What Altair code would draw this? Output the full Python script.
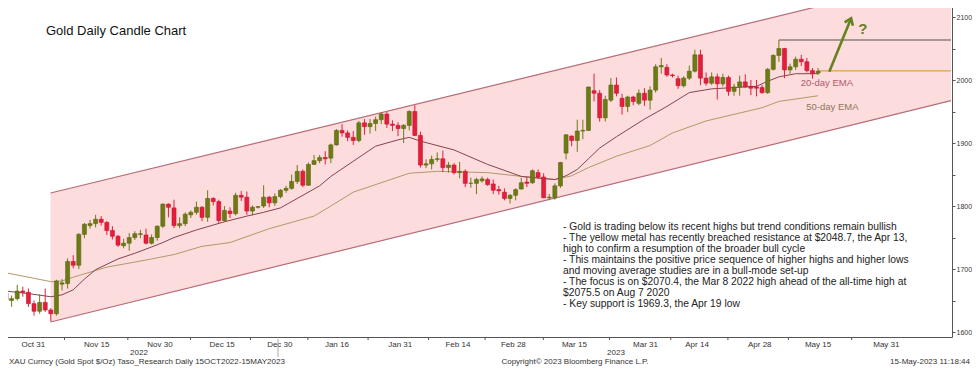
import altair as alt
import pandas as pd

# ---------------- data ----------------
# one candle per weekday, 24 Oct 2022 .. 15 May 2023 (slot index 0..145)
opens = [
    1662, 1650, 1653, 1665, 1663,  1645, 1633, 1647, 1635, 1629,
    1676, 1677, 1712, 1706, 1755,  1769, 1772, 1779, 1774, 1761,
    1752, 1737, 1741, 1750, 1755,  1754, 1741, 1750, 1768, 1803,
    1797, 1769, 1772, 1786, 1790,  1798, 1782, 1812, 1807, 1777,
    1792, 1788, 1817, 1814, 1792,  1798, 1800, 1814, 1805, 1815,
    1825, 1828, 1839, 1855, 1833,  1866, 1872, 1877, 1876, 1897,
    1920, 1916, 1909, 1904, 1932,  1926, 1931, 1937, 1946, 1930,
    1928, 1923, 1928, 1950, 1912,  1865, 1867, 1874, 1875, 1861,
    1865, 1853, 1855, 1836, 1836,  1840, 1842, 1835, 1826, 1822,
    1812, 1817, 1827, 1838, 1837,  1853, 1846, 1813, 1813, 1832,
    1884, 1911, 1904, 1919, 1920,  1983, 1979, 1940, 1968, 1992,
    1971, 1958, 1973, 1963, 1979,  1968, 1984, 2021, 2020, 2008,
    2002, 1991, 2003, 2014, 2040,  2003, 1995, 2005, 1994, 2004,
    1982, 1989, 1997, 1990, 1989,  1988, 1980, 2017, 2039, 2050,
    2016, 2021, 2033, 2029, 2015,  2011,
]
highs = [
    1672, 1658, 1675, 1672, 1669,  1650, 1660, 1669, 1638, 1683,
    1684, 1717, 1722, 1757, 1773,  1778, 1786, 1784, 1776, 1768,
    1754, 1748, 1757, 1760, 1762,  1764, 1755, 1769, 1804, 1804,
    1810, 1782, 1790, 1793, 1807,  1800, 1825, 1814, 1810, 1800,
    1798, 1821, 1824, 1823, 1801,  1800, 1833, 1816, 1820, 1827,
    1832, 1850, 1865, 1858, 1869,  1881, 1881, 1887, 1899, 1922,
    1930, 1920, 1919, 1935, 1938,  1938, 1942, 1949, 1949, 1936,
    1933, 1930, 1952, 1960, 1918,  1874, 1880, 1885, 1888, 1870,
    1868, 1870, 1858, 1845, 1845,  1847, 1845, 1842, 1832, 1828,
    1819, 1828, 1845, 1846, 1858,  1858, 1852, 1819, 1836, 1870,
    1914, 1912, 1937, 1937, 1989,  2010, 1984, 1975, 2003, 2004,
    1978, 1975, 1975, 1985, 1987,  1990, 2025, 2035, 2025, 2010,
    2007, 2006, 2023, 2048, 2048,  2012, 2012, 2010, 2010, 2007,
    1994, 2007, 2009, 2000, 2000,  1992, 2019, 2041, 2063.5, 2051,
    2026, 2037, 2040, 2035, 2019,  2019,
]
lows = [
    1645, 1640, 1650, 1656, 1640,  1626, 1629, 1632, 1617, 1626,
    1666, 1669, 1701, 1700, 1749,  1764, 1766, 1769, 1754, 1747,
    1735, 1733, 1729, 1746, 1749,  1739, 1739, 1745, 1765, 1782,
    1765, 1765, 1768, 1781, 1786,  1776, 1775, 1801, 1773, 1775,
    1781, 1785, 1808, 1786, 1785,  1796, 1797, 1798, 1800, 1812,
    1821, 1826, 1835, 1830, 1832,  1866, 1868, 1866, 1868, 1896,
    1910, 1903, 1897, 1901, 1913,  1915, 1919, 1930, 1924, 1919,
    1911, 1900, 1920, 1911, 1861,  1860, 1858, 1870, 1854, 1853,
    1850, 1844, 1830, 1829, 1819,  1837, 1832, 1819, 1818, 1809,
    1804, 1809, 1826, 1830, 1835,  1843, 1813, 1810, 1810, 1829,
    1874, 1895, 1886, 1906, 1919,  1966, 1934, 1934, 1965, 1974,
    1945, 1949, 1960, 1960, 1959,  1953, 1980, 2010, 2005, 2004,
    1986, 1988, 2000, 2012, 1992,  1991, 1992, 1969, 1990, 1975,
    1975, 1975, 1988, 1976, 1974,  1978, 1978, 2015, 2029, 2003,
    2010, 2016, 2022, 2012, 2002,  2008,
]
closes = [
    1651, 1653, 1665, 1663, 1645,  1633, 1647, 1635, 1629, 1681,
    1678, 1712, 1706, 1755, 1771,  1772, 1779, 1774, 1761, 1752,
    1738, 1741, 1750, 1756, 1756,  1741, 1750, 1768, 1803, 1798,
    1769, 1772, 1787, 1790, 1798,  1782, 1812, 1807, 1777, 1793,
    1788, 1817, 1814, 1792, 1798,  1799, 1814, 1805, 1815, 1825,
    1828, 1839, 1855, 1833, 1866,  1872, 1877, 1875, 1897, 1920,
    1916, 1909, 1904, 1932, 1926,  1931, 1937, 1946, 1930, 1928,
    1923, 1928, 1950, 1912, 1865,  1867, 1874, 1875, 1861, 1865,
    1853, 1855, 1836, 1836, 1842,  1843, 1834, 1825, 1824, 1812,
    1817, 1826, 1837, 1836, 1856,  1846, 1813, 1814, 1832, 1869,
    1913, 1904, 1919, 1920, 1989,  1979, 1940, 1969, 1992, 1979,
    1958, 1973, 1966, 1979, 1968,  1984, 2021, 2023, 2008, 2007,
    1991, 2003, 2014, 2040, 2003,  1995, 2005, 1994, 2004, 1982,
    1989, 1997, 1989, 1987, 1987,  1980, 2017, 2039, 2050, 2016,
    2021, 2033, 2029, 2015, 2010,  2014,
]

ema20_k = [0, 4, 8, 10, 12, 14, 16, 20, 23, 26, 28, 30, 34, 39, 43, 46, 49, 52, 56, 58,
           62, 66, 70, 72, 74, 80, 86, 92, 98, 100, 102, 104, 106, 109, 114, 118, 122,
           126, 130, 134, 136, 138, 141, 145]
ema20_v = [1665, 1661, 1656, 1659, 1667, 1684, 1699, 1716, 1725, 1735, 1742, 1750, 1762,
           1775, 1784, 1790, 1797, 1812, 1832, 1847, 1871, 1895, 1905, 1909, 1903, 1889,
           1866, 1847, 1842, 1848, 1858, 1875, 1892, 1910, 1938, 1958, 1980, 1986, 1988,
           1990, 1998, 2005, 2010, 2010]
ema50_k = [0, 8, 10, 12, 15, 18, 23, 26, 30, 35, 40, 47, 55, 58, 62, 68, 72, 77, 86, 92,
           98, 101, 104, 109, 115, 119, 125, 135, 138, 145]
ema50_v = [1694, 1680, 1681, 1687, 1695, 1703, 1711, 1716, 1723, 1736, 1742, 1764, 1784,
           1800, 1822, 1840, 1852, 1855, 1853, 1847, 1842, 1848, 1861, 1879, 1896, 1916,
           1935, 1956, 1966, 1975]

channel_k = [7.95, 168.73]
channel_low = [1615.9, 1967.3]
channel_high = [1820.6, 2168.1]

resist_k = [138, 168.73]
resist_v = [2063.5, 2063.5]
last_k = [145, 168.73]
last_v = [2014.5, 2014.5]
arrow_k = [147, 150.9]
arrow_v = [2013, 2098]

tick_pos = [4.8, 16.1, 27.4, 38.5, 48.8, 59.0, 70.3, 80.6, 90.5, 101.4, 114.1, 123.3,
            134.5, 144.9, 157.1]
tick_labels = ["Oct 31", "Nov 15", "Nov 30", "Dec 15", "Dec 30", "Jan 16", "Jan 31",
               "Feb 14", "Feb 28", "Mar 15", "Mar 31", "Apr 14", "Apr 28", "May 15",
               "May 31"]
price_ticks = [1600, 1650, 1700, 1750, 1800, 1850, 1900, 1950, 2000, 2050, 2100]

note_lines = [
    "- Gold is trading below its recent highs but trend conditions remain bullish",
    "- The yellow metal has recently breached resistance at $2048.7, the Apr 13,",
    "high to confirm a resumption of the broader bull cycle",
    "- This maintains the positive price sequence of higher highs and higher lows",
    "and moving average studies are in a bull-mode set-up",
    "- The focus is on $2070.4, the Mar 8 2022 high ahead of the all-time high at",
    "$2075.5 on Aug 7 2020",
    "- Key support is 1969.3, the Apr 19 low",
]

# ---------------- tables ----------------
FONT = "Liberation Sans"
candles = pd.DataFrame({
    "k": list(range(len(opens))),
    "open": opens, "high": highs, "low": lows, "close": closes,
})
candles["dir"] = ["up" if c >= o else "down" for o, c in zip(opens, closes)]
ema20 = pd.DataFrame({"k": ema20_k, "v": ema20_v})
ema50 = pd.DataFrame({"k": ema50_k, "v": ema50_v})
chan = pd.DataFrame({"k": channel_k, "lo": channel_low, "hi": channel_high})
resist = pd.DataFrame({"k": resist_k, "v": resist_v})
last = pd.DataFrame({"k": last_k, "v": last_v})
arrow = pd.DataFrame({"k": arrow_k, "v": arrow_v})
mid_ticks = pd.DataFrame({"k": [(a + b) / 2 for a, b in zip(tick_pos[:-1], tick_pos[1:])]})

PLOT_W = 952
xs = alt.Scale(domain=[-0.18, 168.02], nice=False, zero=False)
ys = alt.Scale(domain=[1592.1, 2127.0], nice=False, zero=False)

label_expr = "[" + ",".join("'%s'" % t for t in tick_labels) + "][indexof([" + \
    ",".join(str(p) for p in tick_pos) + "], datum.value)]"
X_AXIS = alt.Axis(values=tick_pos, labelExpr=label_expr, title=None, ticks=False,
                  grid=False, domainColor="#555", domainWidth=1, labelFont=FONT,
                  labelFontSize=8, labelColor="#333", labelPadding=3, labelOverlap=False)
Y_AXIS = alt.Axis(orient="right", values=price_ticks, format="d",
                  labelExpr="datum.value % 100 == 0 ? datum.label : ''", title=None,
                  grid=False, tickSize=3, tickColor="#555", domainColor="#555",
                  labelFont=FONT, labelFontSize=7, labelColor="#333", labelPadding=1,
                  labelOverlap=False)


def X(field="k"):
    return alt.X(field + ":Q", scale=xs, axis=X_AXIS)


def Y(field):
    return alt.Y(field + ":Q", scale=ys, axis=Y_AXIS)


dir_fill = alt.Color("dir:N", scale=alt.Scale(domain=["up", "down"],
                                              range=["#6d7b15", "#e61e3c"]), legend=None)

channel_area = alt.Chart(chan).mark_area(color="#fcdcdc", clip=True).encode(
    x=X(), y=Y("lo"), y2="hi:Q")
channel_hi = alt.Chart(chan).mark_line(color="#b86c78", strokeWidth=1.2, clip=True).encode(
    x=X(), y=Y("hi"))
channel_lo = alt.Chart(chan).mark_line(color="#b86c78", strokeWidth=1.2, clip=True).encode(
    x=X(), y=Y("lo"))
ema50_line = alt.Chart(ema50).mark_line(color="#b09a6a", strokeWidth=1, clip=True).encode(
    x=X(), y=Y("v"))
ema20_line = alt.Chart(ema20).mark_line(color="#864452", strokeWidth=1, clip=True).encode(
    x=X(), y=Y("v"))
resist_line = alt.Chart(resist).mark_line(color="#55554a", strokeWidth=1.2, clip=True).encode(
    x=X(), y=Y("v"))
last_line = alt.Chart(last).mark_line(color="#d9a441", strokeWidth=1.3, clip=True).encode(
    x=X(), y=Y("v"))
wicks = alt.Chart(candles).mark_rule(strokeWidth=1, clip=True).encode(
    x=X(), y=Y("low"), y2="high:Q", color=dir_fill)
bodies = alt.Chart(candles).mark_bar(size=4, clip=True, strokeWidth=0.6).encode(
    x=X(), y=Y("open"), y2="close:Q", color=dir_fill,
    stroke=alt.Stroke("dir:N", scale=alt.Scale(domain=["up", "down"],
                                               range=["#59650f", "#c4122f"]), legend=None))
arrow_line = alt.Chart(arrow).mark_line(color="#64821e", strokeWidth=2.6).encode(
    x=X(), y=Y("v"))
arrow_head = alt.Chart(arrow.tail(1)).mark_point(
    shape="M-0.6,0.85L0,0L0.6,0.85", filled=False, color="#64821e", strokeWidth=2.6,
    size=220, angle=22, opacity=1).encode(x=X(), y=Y("v"))

lab20 = pd.DataFrame({"k": [141.9], "v": [1995], "t": ["20-day EMA"]})
lab50 = pd.DataFrame({"k": [142.9], "v": [1957], "t": ["50-day EMA"]})
labq = pd.DataFrame({"k": [153.0], "v": [2080.5], "t": ["?"]})
ema20_label = alt.Chart(lab20).mark_text(
    font=FONT, fontSize=9.5, align="left", baseline="middle", color="#b25a6c").encode(
    x=X(), y=Y("v"), text="t:N")
ema50_label = alt.Chart(lab50).mark_text(
    font=FONT, fontSize=9.5, align="left", baseline="middle", color="#8c775c").encode(
    x=X(), y=Y("v"), text="t:N")
qmark = alt.Chart(labq).mark_text(
    font=FONT, fontSize=15, fontWeight="bold", color="#6a7f24", align="center",
    baseline="middle").encode(x=X(), y=Y("v"), text="t:N")

one = pd.DataFrame({"z": [0]})
title = alt.Chart(one).mark_text(text="Gold Daily Candle Chart", font=FONT, fontSize=13,
                                 color="#111", align="left", baseline="middle").encode(
    x=alt.value(46), y=alt.value(31))
notes = alt.Chart(one).mark_text(text=note_lines, font=FONT, fontSize=10.3, color="#222",
                                 align="left", baseline="alphabetic", lineHeight=11.1).encode(
    x=alt.value(563), y=alt.value(229.5))
minor = alt.Chart(mid_ticks).mark_rule(color="#555", strokeWidth=1).encode(
    x=X(), y=alt.value(337), y2=alt.value(340))
year_div = alt.Chart(one).mark_rule(color="#aaa", strokeWidth=1).encode(
    x=alt.value(278), y=alt.value(339), y2=alt.value(357))
years = alt.Chart(pd.DataFrame({"t": ["2022", "2023"], "px": [139, 616]})).mark_text(
    font=FONT, fontSize=8, color="#333", baseline="middle").encode(
    x=alt.X("px:Q", scale=None), y=alt.value(353), text="t:N")
foot_left = alt.Chart(one).mark_text(
    text="XAU Curncy (Gold Spot  $/Oz) Taso_Research  Daily 15OCT2022-15MAY2023",
    font=FONT, fontSize=8, color="#333", align="left", baseline="middle").encode(
    x=alt.value(9), y=alt.value(362))
foot_mid = alt.Chart(one).mark_text(
    text="Copyright\u00a9 2023 Bloomberg Finance L.P.", font=FONT, fontSize=8,
    color="#333", align="center", baseline="middle").encode(
    x=alt.value(575), y=alt.value(362))
foot_right = alt.Chart(one).mark_text(
    text="15-May-2023 11:18:44", font=FONT, fontSize=8, color="#333", align="right",
    baseline="middle").encode(x=alt.value(970), y=alt.value(362))

chart = alt.layer(
    channel_area, channel_hi, channel_lo, ema50_line, ema20_line, resist_line, last_line,
    wicks, bodies, arrow_line, arrow_head, ema20_label, ema50_label, qmark, title, notes,
    minor, year_div, years, foot_left, foot_mid, foot_right,
).properties(
    width=PLOT_W, height=337,
    autosize=alt.AutoSizeParams(type="none"),
    padding={"left": -8, "top": -8, "right": 964 + 8 - PLOT_W, "bottom": 31},
).configure_view(stroke=None)

chart.save("out.html", embed_options={"renderer": "svg", "actions": False})
